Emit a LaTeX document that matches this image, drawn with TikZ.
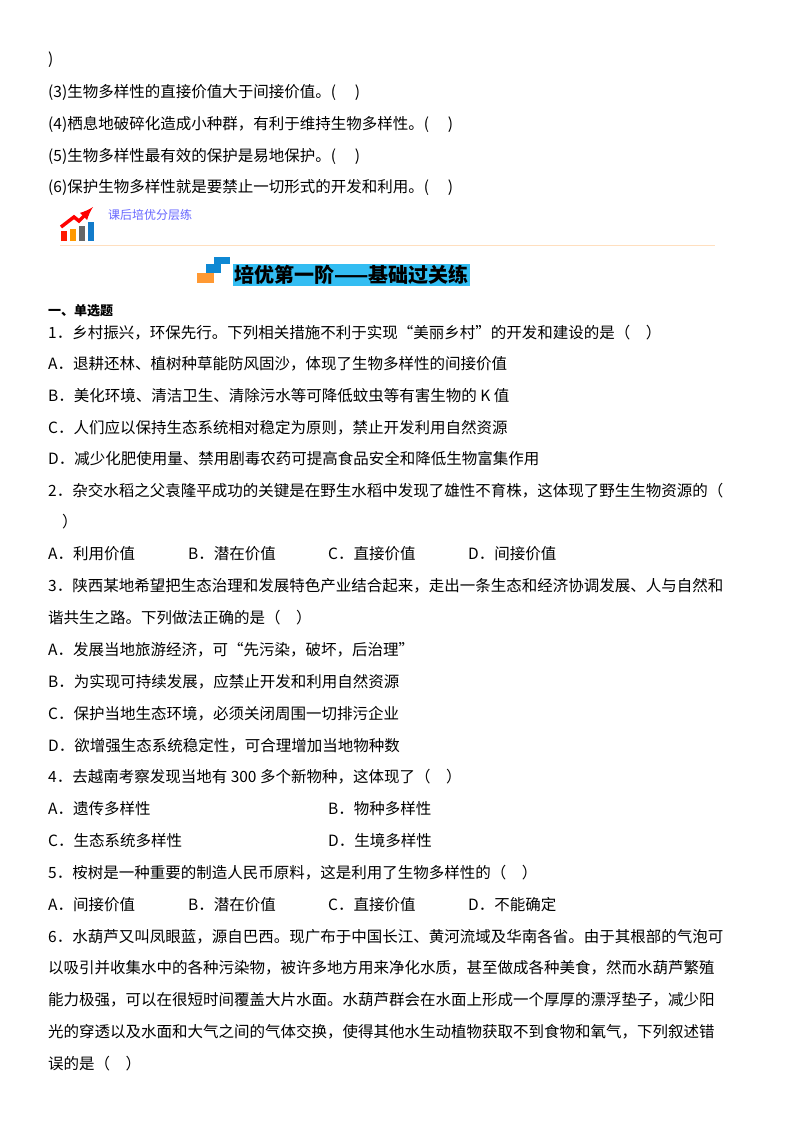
\documentclass[tikz,border=0pt]{standalone}
\usepackage{fontspec}
\setmainfont{Noto Sans CJK SC}
\begin{document}
\begin{tikzpicture}[x=1pt,y=-1pt]
    \tikzstyle{line}=[anchor=west,inner sep=0pt,font=\fontsize{15.5}{18}\selectfont]
    \tikzstyle{bar}=[line width=6pt]
    \useasboundingbox (0,0) rectangle (800,1132);
    \fill[white] (0,0) rectangle (800,1132);

    % top questions
    \node[line] (r0) at (48,60) {)};
    \node[line] (r3) at (48,92) {(3)生物多样性的直接价值大于间接价值。(\quad\ )};
    \node[line] (r4) at (48,124) {(4)栖息地破碎化造成小种群，有利于维持生物多样性。(\quad\ )};
    \node[line] (r5) at (48,156) {(5)生物多样性最有效的保护是易地保护。(\quad\ )};
    \node[line] (r6) at (48,187) {(6)保护生物多样性就是要禁止一切形式的开发和利用。(\quad\ )};

    % header icon
    \draw[bar,red!80!orange] (64,241) -- (64,231);
    \draw[bar,orange!80!yellow] (73,241) -- (73,229);
    \draw[bar,black!60] (82,241) -- (82,226);
    \draw[bar,cyan!60!blue] (91,241) -- (91,222);
    \draw[red,line width=3.5pt,-latex] (61,227) -- (74,217) -- (79,221) -- (93,207);
    \node[anchor=west,inner sep=0pt,text=blue!60,font=\fontsize{12}{14}\selectfont] (hd) at (108,215) {课后培优分层练};
    \draw[orange!25,line width=1pt] (60,245) -- (715,245);

    % title
    \fill[orange!80] (197,273) rectangle (214,283);
    \fill[cyan!70!blue] (206,264) rectangle (221,273);
    \fill[cyan!70!blue] (214,257) rectangle (230,264);
    \node[anchor=west,fill=cyan!80,inner sep=1pt,font=\fontsize{20}{22}\bfseries\selectfont] (ttl) at (233,275) {培优第一阶——基础过关练};

    \node[line,font=\fontsize{13}{15}\bfseries\selectfont] (sec) at (48,311) {一、单选题};

    % question 1
    \node[line] (q1) at (48,333) {1．乡村振兴，环保先行。下列相关措施不利于实现“美丽乡村”的开发和建设的是（\quad）};
    \node[line] (q1a) at (48,364) {A．退耕还林、植树种草能防风固沙，体现了生物多样性的间接价值};
    \node[line] (q1b) at (48,396) {B．美化环境、清洁卫生、清除污水等可降低蚊虫等有害生物的 K 值};
    \node[line] (q1c) at (48,428) {C．人们应以保持生态系统相对稳定为原则，禁止开发利用自然资源};
    \node[line] (q1d) at (48,459) {D．减少化肥使用量、禁用剧毒农药可提高食品安全和降低生物富集作用};

    % question 2
    \node[line] (q2) at (48,491) {2．杂交水稻之父袁隆平成功的关键是在野生水稻中发现了雄性不育株，这体现了野生生物资源的（};
    \node[line] (q2e) at (62,522) {）};
    \node[line] (q2a) at (48,554) {A．利用价值};
    \node[line] (q2b) at (188,554) {B．潜在价值};
    \node[line] (q2c) at (328,554) {C．直接价值};
    \node[line] (q2d) at (468,554) {D．间接价值};

    % question 3
    \node[line] (q3) at (48,586) {3．陕西某地希望把生态治理和发展特色产业结合起来，走出一条生态和经济协调发展、人与自然和};
    \node[line] (q3x) at (48,618) {谐共生之路。下列做法正确的是（\quad）};
    \node[line] (q3a) at (48,650) {A．发展当地旅游经济，可“先污染，破坏，后治理”};
    \node[line] (q3b) at (48,682) {B．为实现可持续发展，应禁止开发和利用自然资源};
    \node[line] (q3c) at (48,714) {C．保护当地生态环境，必须关闭周围一切排污企业};
    \node[line] (q3d) at (48,746) {D．欲增强生态系统稳定性，可合理增加当地物种数};

    % question 4
    \node[line] (q4) at (48,777) {4．去越南考察发现当地有 300 多个新物种，这体现了（\quad）};
    \node[line] (q4a) at (48,809) {A．遗传多样性};
    \node[line] (q4b) at (328,809) {B．物种多样性};
    \node[line] (q4c) at (48,841) {C．生态系统多样性};
    \node[line] (q4d) at (328,841) {D．生境多样性};

    % question 5
    \node[line] (q5) at (48,873) {5．桉树是一种重要的制造人民币原料，这是利用了生物多样性的（\quad）};
    \node[line] (q5a) at (48,905) {A．间接价值};
    \node[line] (q5b) at (188,905) {B．潜在价值};
    \node[line] (q5c) at (328,905) {C．直接价值};
    \node[line] (q5d) at (468,905) {D．不能确定};

    % question 6
    \node[line] (q6) at (48,937) {6．水葫芦又叫凤眼蓝，源自巴西。现广布于中国长江、黄河流域及华南各省。由于其根部的气泡可};
    \node[line] (q6b) at (48,968) {以吸引并收集水中的各种污染物，被许多地方用来净化水质，甚至做成各种美食，然而水葫芦繁殖};
    \node[line] (q6c) at (48,1000) {能力极强，可以在很短时间覆盖大片水面。水葫芦群会在水面上形成一个厚厚的漂浮垫子，减少阳};
    \node[line] (q6d) at (48,1032) {光的穿透以及水面和大气之间的气体交换，使得其他水生动植物获取不到食物和氧气，下列叙述错};
    \node[line] (q6e) at (48,1064) {误的是（\quad）};
\end{tikzpicture}
\end{document}
